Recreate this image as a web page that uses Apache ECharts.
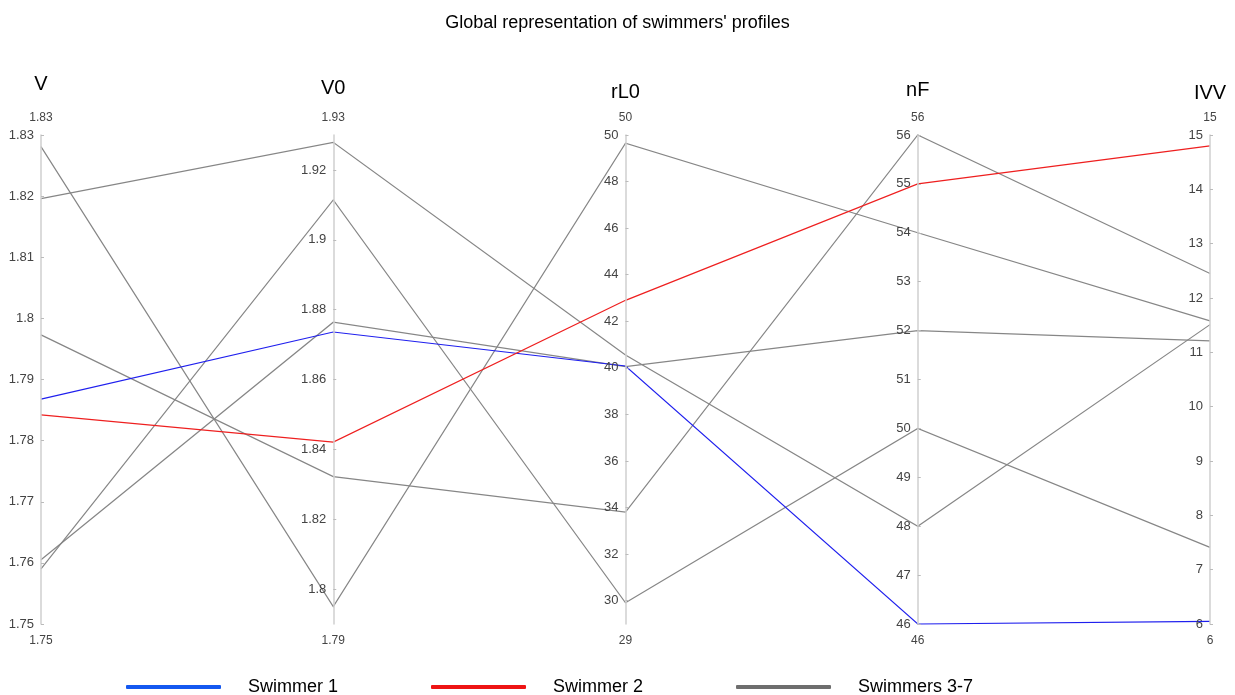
<!DOCTYPE html>
<html><head><meta charset="utf-8">
<script src="https://cdn.jsdelivr.net/npm/echarts@6/dist/echarts.min.js"></script>
<style>html,body{margin:0;padding:0;background:#fff}#c{width:1235px;height:695px}</style>
</head><body><div id="c"></div>
<script>
const dims = ['V', 'V0', 'rL0', 'nF', 'IVV'];
const axisMin = [1.75, 1.79, 29, 46, 6];
const axisMax = [1.83, 1.93, 50, 56, 15];
const ticksV = [1.75, 1.76, 1.77, 1.78, 1.79, 1.8, 1.81, 1.82, 1.83];
const ticksV0 = [1.8, 1.82, 1.84, 1.86, 1.88, 1.9, 1.92];
const ticksRL0 = [30, 32, 34, 36, 38, 40, 42, 44, 46, 48, 50];
const ticksNF = [46, 47, 48, 49, 50, 51, 52, 53, 54, 55, 56];
const ticksIVV = [6, 7, 8, 9, 10, 11, 12, 13, 14, 15];
const seriesNames = ['Swimmer 1', 'Swimmer 2', 'Swimmers 3-7'];
const swimmer1 = [1.7868, 1.8736, 40.08, 46, 6.05];
const swimmer2 = [1.7842, 1.8421, 42.9, 55.0, 14.8];
const swimmers3to7 = [
  [1.8281, 1.795, 49.65, 54, 11.58],
  [1.8196, 1.9279, 40.55, 48, 11.51],
  [1.7973, 1.8322, 33.81, 56, 12.45],
  [1.7605, 1.8764, 40.05, 52, 11.21],
  [1.759, 1.9114, 29.91, 50, 7.41]
];

const tickSets = [ticksV, ticksV0, ticksRL0, ticksNF, ticksIVV];
const nameLH = [52, 44, 36, 40, 34];
const FONT = '"Liberation Sans", Arial, sans-serif';
const lineColors = ['#1f1fee', '#ee1f1f', '#868686'];
const legendColors = ['#1458f0', '#ee1414', '#6e6e6e'];

const parallelBox = { left: 41, right: 25, top: 135, bottom: 71, layout: 'horizontal' };

const mainAxes = dims.map((d, i) => ({
  dim: i,
  parallelIndex: 0,
  type: 'value',
  min: axisMin[i],
  max: axisMax[i],
  name: '{n|' + d + '}\n{v|' + axisMax[i] + '}',
  nameLocation: 'end',
  nameGap: 9,
  nameTextStyle: {
    rich: {
      n: { fontSize: 20, color: '#000', lineHeight: nameLH[i], fontFamily: FONT },
      v: { fontSize: 12, color: '#444', lineHeight: 16, fontFamily: FONT }
    }
  },
  axisLine: { show: true, lineStyle: { color: '#cfcfcf', width: 1.5 } },
  axisTick: { show: true, inside: true, length: 3, lineStyle: { color: '#bbb' }, customValues: tickSets[i] },
  axisLabel: { show: true, color: '#444', fontSize: 13, fontFamily: FONT, margin: -7, align: 'right', customValues: tickSets[i] },
  splitLine: { show: false }
}));

const minAxes = dims.map((d, i) => ({
  dim: i,
  parallelIndex: 1,
  type: 'value',
  min: axisMin[i],
  max: axisMax[i],
  name: String(axisMin[i]),
  nameLocation: 'start',
  nameGap: 11,
  nameTextStyle: { fontSize: 12, color: '#444', fontFamily: FONT },
  axisLine: { show: false },
  axisTick: { show: false },
  axisLabel: { show: false },
  splitLine: { show: false }
}));

const chart = echarts.init(document.getElementById('c'), null, { renderer: 'canvas' });
chart.setOption({
  animation: false,
  backgroundColor: '#fff',
  title: {
    text: "Global representation of swimmers' profiles",
    left: 'center', top: 9,
    textStyle: { fontSize: 18, fontWeight: 'normal', color: '#000', fontFamily: FONT }
  },
  legend: {
    left: 126, top: 678, padding: 0,
    itemWidth: 95, itemHeight: 4, itemGap: 93,
    icon: 'roundRect',
    textStyle: { fontSize: 18, color: '#000', fontFamily: FONT, padding: [0, 0, 3, 22] },
    data: seriesNames.map((n, i) => ({ name: n, itemStyle: { color: legendColors[i], borderWidth: 0 } }))
  },
  parallel: [
    Object.assign({}, parallelBox),
    Object.assign({}, parallelBox, { silent: true })
  ],
  parallelAxis: mainAxes.concat(minAxes),
  series: [
    { name: seriesNames[0], type: 'parallel', parallelIndex: 0, color: lineColors[0],
      lineStyle: { color: lineColors[0], width: 1.2, opacity: 1 }, data: [swimmer1] },
    { name: seriesNames[1], type: 'parallel', parallelIndex: 0, color: lineColors[1],
      lineStyle: { color: lineColors[1], width: 1.2, opacity: 1 }, data: [swimmer2] },
    { name: seriesNames[2], type: 'parallel', parallelIndex: 0, color: lineColors[2],
      lineStyle: { color: lineColors[2], width: 1.2, opacity: 1 }, data: swimmers3to7, z: 1 }
  ]
});
</script></body></html>
